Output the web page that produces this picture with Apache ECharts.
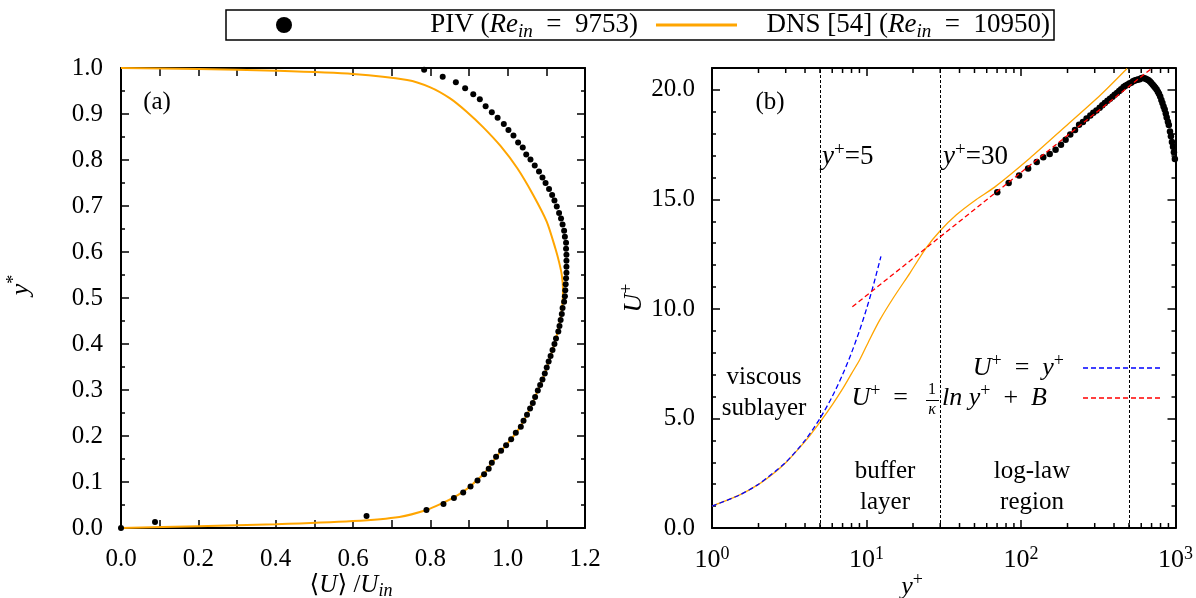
<!DOCTYPE html>
<html>
<head>
<meta charset="utf-8">
<script src="https://cdn.jsdelivr.net/npm/echarts@6/dist/echarts.min.js"></script>
<style>
  html, body { margin: 0; padding: 0; background: #fff; }
  #chart { width: 1196px; height: 598px; }
</style>
</head>
<body>
<div id="chart"></div>
<script>
// ---------- data ----------
// Panel (a): mean streamwise velocity profile, [<U>/U_in, y*]
const pivProfile = [
  [0.000,0.000],[0.088,0.013],[0.635,0.026],[0.790,0.039],[0.834,0.052],[0.861,0.065],
  [0.885,0.077],[0.904,0.090],[0.922,0.103],[0.939,0.117],[0.951,0.129],[0.959,0.142],
  [0.970,0.155],[0.983,0.168],[0.996,0.180],[1.009,0.193],[1.021,0.207],[1.034,0.220],
  [1.041,0.233],[1.050,0.246],[1.058,0.260],[1.065,0.272],[1.071,0.285],[1.078,0.299],
  [1.084,0.311],[1.090,0.323],[1.096,0.336],[1.101,0.349],[1.106,0.362],[1.111,0.374],
  [1.116,0.387],[1.121,0.400],[1.125,0.412],[1.131,0.427],[1.134,0.439],[1.137,0.452],
  [1.140,0.465],[1.142,0.478],[1.146,0.492],[1.148,0.504],[1.149,0.517],[1.150,0.530],
  [1.151,0.543],[1.152,0.555],[1.152,0.568],[1.152,0.581],[1.152,0.594],[1.151,0.607],
  [1.151,0.620],[1.148,0.633],[1.146,0.646],[1.142,0.660],[1.138,0.673],[1.133,0.685],
  [1.127,0.699],[1.121,0.712],[1.115,0.724],[1.107,0.737],[1.098,0.750],[1.090,0.762],
  [1.081,0.775],[1.070,0.788],[1.059,0.801],[1.048,0.812],[1.039,0.827],[1.027,0.838],
  [1.015,0.853],[1.002,0.865],[0.990,0.878],[0.974,0.892],[0.959,0.904],[0.943,0.917],
  [0.928,0.932],[0.911,0.943],[0.890,0.956],[0.866,0.969],[0.832,0.981],[0.784,0.996]
];
const dnsProfile = [
  [0.000,0.000],[0.200,0.004],[0.400,0.008],[0.600,0.015],[0.720,0.024],[0.790,0.039],
  [0.834,0.055],[0.862,0.067],[0.885,0.079],[0.905,0.092],[0.922,0.105],[0.940,0.119],
  [0.960,0.142],[0.983,0.168],[1.009,0.193],[1.034,0.222],[1.058,0.260],[1.078,0.299],
  [1.096,0.336],[1.111,0.374],[1.125,0.412],[1.136,0.452],[1.142,0.490],[1.143,0.520],
  [1.140,0.550],[1.133,0.578],[1.124,0.606],[1.101,0.666],[1.066,0.724],[1.025,0.782],
  [0.982,0.830],[0.937,0.871],[0.894,0.905],[0.851,0.934],[0.800,0.958],[0.740,0.974],
  [0.600,0.987],[0.400,0.994],[0.200,0.998],[0.000,1.000]
];

// Panel (b): inner-scaled velocity, [y+, U+]
const pivWall = [
  [70.2,15.33],[83.2,15.75],[97.2,16.09],[111.2,16.41],[126.4,16.71],[139.3,16.93],
  [153.4,17.07],[167.4,17.27],[181.4,17.50],[194.4,17.73],[208.4,17.96],[223.6,18.17],
  [237.6,18.41],[251.6,18.53],[265.7,18.69],[280.8,18.83],[293.8,18.96],[307.8,19.06],
  [322.9,19.19],[335.9,19.30],[348.8,19.40],[362.9,19.51],[376.9,19.60],[391.0,19.69],
  [403.9,19.78],[418.0,19.86],[432.0,19.95],[445.0,20.03],[461.2,20.13],[474.1,20.19],
  [488.2,20.24],[502.2,20.29],[516.2,20.33],[531.4,20.40],[544.3,20.43],[558.4,20.45],
  [572.4,20.47],[586.4,20.49],[599.4,20.53],[613.4,20.55],[627.5,20.53],[641.5,20.51],
  [655.6,20.47],[669.6,20.44],[683.6,20.38],[697.7,20.32],[712.8,20.24],[726.8,20.17],
  [739.8,20.10],[754.9,20.02],[769.0,19.92],[781.9,19.82],[796.0,19.70],[810.0,19.54],
  [823.0,19.40],[837.0,19.24],[851.0,19.10],[865.1,18.92],[877.0,18.74],[893.2,18.55],
  [905.0,18.40],[921.2,18.10],[934.2,17.88],[948.2,17.62],[963.4,17.40],[976.3,17.15],
  [990.4,16.84]
];
const dnsWall = [
  [1,1.00],[1.5,1.50],[2,1.99],[2.5,2.49],[3,2.98],[3.68,3.66],[4.3,4.22],[5,4.83],
  [6,5.62],[7,6.35],[8,7.05],[9.04,7.68],[10.5,8.62],[12.2,9.50],[14.9,10.50],
  [19.1,11.64],[24.4,12.80],[29.8,13.55],[38.2,14.30],[51.4,15.00],[67.2,15.55],
  [114,16.88],[193,18.32],[327,19.77],[486,20.98]
];
const viscousLaw = [
  [1,1],[1.5,1.5],[2,2],[3,3],[4,4],[5,5],[6,6],[7,7],[8,8],[9,9],[10,10],[11,11],[12.4,12.4]
];
const logLaw = [[8.1,10.1],[700,20.98]];
const regionBounds = [5, 30, 500];
const logMinorTicks = [2,3,4,5,6,7,8,9,20,30,40,50,60,70,80,90,200,300,400,500,600,700,800,900];

// ---------- styling helpers ----------
const FONT = '"Liberation Serif", "DejaVu Serif", serif';
const BLACK = '#000';
const ORANGE = '#FFA500';

function richSet(size) {
  return {
    n:   { fontFamily: FONT, fontSize: size, color: BLACK, lineHeight: size + 6 },
    it:  { fontFamily: FONT, fontSize: size, color: BLACK, fontStyle: 'italic', lineHeight: size + 6 },
    sub: { fontFamily: FONT, fontSize: Math.round(size * 0.7), color: BLACK, fontStyle: 'italic',
           lineHeight: Math.round(size * 0.45), verticalAlign: 'bottom' },
    sup: { fontFamily: FONT, fontSize: Math.round(size * 0.7), color: BLACK,
           lineHeight: Math.round(size * 0.55), verticalAlign: 'top' }
  };
}

const axisLineStyle = { color: BLACK, width: 2 };
const tickStyle = { color: BLACK, width: 1.5 };

function valueAxis(extra) {
  return Object.assign({
    type: 'value',
    axisLine: { show: true, onZero: false, lineStyle: axisLineStyle },
    axisTick: { show: true, inside: true, length: 8, lineStyle: tickStyle },
    splitLine: { show: false },
    minorSplitLine: { show: false },
    axisLabel: { show: false }
  }, extra);
}

function tickLabel(margin) {
  return {
    show: true, margin: margin, color: BLACK, fontFamily: FONT, fontSize: 25,
    formatter: v => v.toFixed(1)
  };
}

function logAxis(extra) {
  return Object.assign({
    type: 'log', logBase: 10, min: 1, max: 1000, splitNumber: 3,
    axisLine: { show: true, onZero: false, lineStyle: axisLineStyle },
    axisTick: { show: true, inside: true, length: 8, lineStyle: tickStyle },
    splitLine: { show: false },
    axisLabel: { show: false }
  }, extra);
}

function txt(x, y, text, opts) {
  opts = opts || {};
  const size = opts.size || 25;
  const align = opts.align || 'center';
  return {
    type: 'text', x: x, y: y, rotation: opts.rotation || 0, silent: true, z: 100,
    style: {
      text: text, rich: richSet(size),
      fontFamily: FONT, fontSize: size, fill: BLACK,
      align: align, textAlign: align,
      verticalAlign: 'middle', textVerticalAlign: 'middle',
      lineHeight: opts.lineHeight || size + 6
    }
  };
}

function seg(x1, y1, x2, y2, color, width, dash) {
  return {
    type: 'line', silent: true, z: 100,
    shape: { x1: x1, y1: y1, x2: x2, y2: y2 },
    style: { stroke: color, lineWidth: width, lineDash: dash || null }
  };
}

const chart = echarts.init(document.getElementById('chart'), null, { renderer: 'canvas' });

const option = {
  backgroundColor: '#fff',
  animation: false,
  grid: [
    { left: 121, top: 68, width: 464, height: 460 },
    { left: 712, top: 68, width: 464, height: 460 }
  ],
  xAxis: [
    valueAxis({ gridIndex: 0, min: 0, max: 1.2, interval: 0.2, position: 'bottom',
      minorTick: { show: true, splitNumber: 2, length: 8, lineStyle: tickStyle },
      axisLabel: tickLabel(19) }),
    valueAxis({ gridIndex: 0, min: 0, max: 1.2, interval: 0.2, position: 'top',
      minorTick: { show: true, splitNumber: 2, length: 8, lineStyle: tickStyle } }),
    logAxis({ gridIndex: 1, position: 'bottom',
      axisLabel: {
        show: true, margin: 17, color: BLACK,
        formatter: v => '{b|10}{e|' + Math.round(Math.log10(v)) + '}',
        rich: {
          b: { fontFamily: FONT, fontSize: 26, color: BLACK, lineHeight: 30 },
          e: { fontFamily: FONT, fontSize: 18, color: BLACK, lineHeight: 16, verticalAlign: 'top' }
        }
      } }),
    logAxis({ gridIndex: 1, position: 'top' })
  ],
  yAxis: [
    valueAxis({ gridIndex: 0, min: 0, max: 1, interval: 0.1, position: 'left',
      minorTick: { show: true, splitNumber: 2, length: 4, lineStyle: tickStyle },
      axisLabel: tickLabel(18) }),
    valueAxis({ gridIndex: 0, min: 0, max: 1, interval: 0.1, position: 'right',
      minorTick: { show: true, splitNumber: 2, length: 4, lineStyle: tickStyle } }),
    valueAxis({ gridIndex: 1, min: 0, max: 21, interval: 5, position: 'left',
      axisLabel: Object.assign(tickLabel(17), { showMaxLabel: false }) }),
    valueAxis({ gridIndex: 1, min: 0, max: 21, interval: 5, position: 'right' }),
    valueAxis({ gridIndex: 1, min: 0, max: 21, interval: 1, position: 'left',
      axisLine: { show: false }, axisTick: { show: true, inside: true, length: 4, lineStyle: tickStyle } }),
    valueAxis({ gridIndex: 1, min: 0, max: 21, interval: 1, position: 'right',
      axisLine: { show: false }, axisTick: { show: true, inside: true, length: 4, lineStyle: tickStyle } })
  ],
  series: [
    {
      name: 'DNS profile', type: 'line', xAxisIndex: 0, yAxisIndex: 0,
      data: dnsProfile, showSymbol: false, smooth: 0.25,
      lineStyle: { color: ORANGE, width: 2 }, z: 2
    },
    {
      name: 'PIV profile', type: 'scatter', xAxisIndex: 0, yAxisIndex: 0,
      data: pivProfile, symbol: 'circle', symbolSize: 6,
      itemStyle: { color: BLACK, opacity: 1 }, z: 3
    },
    {
      name: 'PIV wall', type: 'scatter', xAxisIndex: 2, yAxisIndex: 2,
      data: pivWall, symbol: 'circle', symbolSize: 6.5,
      itemStyle: { color: BLACK, opacity: 1 }, z: 3,
      markLine: {
        silent: true, symbol: 'none', label: { show: false },
        lineStyle: { color: BLACK, type: [3, 2], width: 1 },
        data: regionBounds.map(v => ({ xAxis: v }))
      }
    },
    {
      name: 'DNS wall', type: 'line', xAxisIndex: 2, yAxisIndex: 2,
      data: dnsWall, showSymbol: false, smooth: 0.25,
      lineStyle: { color: ORANGE, width: 1.3 }, z: 4
    },
    {
      name: 'U+ = y+', type: 'line', xAxisIndex: 2, yAxisIndex: 2,
      data: viscousLaw, showSymbol: false, smooth: 0.25,
      lineStyle: { color: '#0000FF', width: 1.3, type: [5, 3] }, z: 5
    },
    {
      name: 'log law', type: 'line', xAxisIndex: 2, yAxisIndex: 2,
      data: logLaw, showSymbol: false,
      lineStyle: { color: '#FF0000', width: 1.3, type: [5, 3] }, z: 6
    },
    {
      name: 'log minor ticks', type: 'custom', xAxisIndex: 2, yAxisIndex: 2,
      data: logMinorTicks.map(v => [v]), silent: true, z: 7,
      renderItem: function (params, api) {
        const v = api.value(0);
        const b = api.coord([v, 0]);
        const t = api.coord([v, 21]);
        const st = { stroke: BLACK, lineWidth: 1.5 };
        return {
          type: 'group',
          children: [
            { type: 'line', shape: { x1: b[0], y1: b[1], x2: b[0], y2: b[1] - 5 }, style: st },
            { type: 'line', shape: { x1: t[0], y1: t[1], x2: t[0], y2: t[1] + 5 }, style: st }
          ]
        };
      }
    }
  ],
  graphic: {
    elements: [
      // key box
      { type: 'rect', silent: true, z: 99, shape: { x: 226, y: 10, width: 828, height: 30 },
        style: { fill: '#fff', stroke: BLACK, lineWidth: 1.5 } },
      { type: 'circle', silent: true, z: 100, shape: { cx: 284, cy: 25, r: 8 }, style: { fill: BLACK } },
      txt(638, 25, '{n|PIV (}{it|Re}{sub|in}{n|  =  9753)}', { size: 27, align: 'right' }),
      seg(656, 25, 737, 25, ORANGE, 3),
      txt(1050, 25, '{n|DNS [54] (}{it|Re}{sub|in}{n|  =  10950)}', { size: 27, align: 'right' }),

      // panel labels
      txt(157, 102, '{n|(a)}'),
      txt(770, 102, '{n|(b)}'),

      // axis titles
      txt(351, 585, '{n|⟨}{it|U}{n|⟩ /}{it|U}{sub|in}', { size: 25 }),
      txt(21, 285, '{it|y}{sup|*}', { size: 26, rotation: Math.PI / 2 }),
      txt(912, 587, '{it|y}{sup|+}', { size: 26 }),
      txt(634, 298, '{it|U}{sup|+}', { size: 26, rotation: Math.PI / 2 }),

      // region annotations
      txt(822, 157, '{it|y}{sup|+}{n|=5}', { size: 27, align: 'left' }),
      txt(943, 157, '{it|y}{sup|+}{n|=30}', { size: 27, align: 'left' }),
      txt(764, 393, '{n|viscous}\n{n|sublayer}', { size: 25, lineHeight: 27 }),
      txt(885, 487, '{n|buffer}\n{n|layer}', { size: 25, lineHeight: 27 }),
      txt(1032, 487, '{n|log-law}\n{n|region}', { size: 25, lineHeight: 30 }),

      // inner key
      txt(1064, 368, '{it|U}{sup|+}{n|  =  }{it|y}{sup|+}', { size: 26, align: 'right' }),
      seg(1083, 368, 1160, 368, '#0000FF', 1.3, [5, 3]),
      txt(921, 398, '{it|U}{sup|+}{n|  =  }', { size: 26, align: 'right' }),
      txt(932, 390, '{n|1}', { size: 16 }),
      seg(926, 400.5, 939, 400.5, BLACK, 1),
      txt(932, 410, '{it|κ}', { size: 16 }),
      txt(942, 398, '{it|ln y}{sup|+}{n|  +  }{it|B}', { size: 26, align: 'left' }),
      seg(1083, 398, 1160, 398, '#FF0000', 1.3, [5, 3])
    ]
  }
};

chart.setOption(option);
</script>
</body>
</html>
